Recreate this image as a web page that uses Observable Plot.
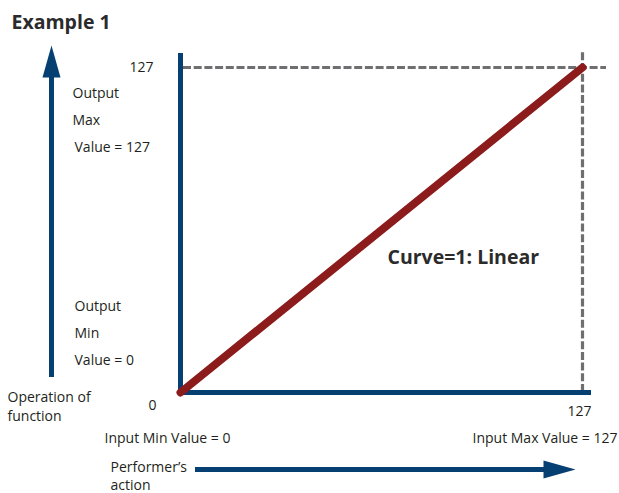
<!DOCTYPE html>
<html>
<head>
<meta charset="utf-8">
<script src="https://cdn.jsdelivr.net/npm/d3@7"></script>
<script src="https://cdn.jsdelivr.net/npm/@observablehq/plot@0.6"></script>
<style>
  html, body { margin: 0; padding: 0; background: #fff; }
</style>
</head>
<body>
<div id="chart"></div>
<script>
// ---- data ----
const curveInput = [0, 127];
const curveOutput = [0, 127];
const axisMin = 0;
const axisMax = 127;
const tickLabels = ["0", "127"];
const titleText = "Example 1";
const curveLabel = "Curve=1: Linear";
const outputMaxLines = ["Output", "Max", "Value = 127"];
const outputMinLines = ["Output", "Min", "Value = 0"];
const yTitleLines = ["Operation of", "function"];
const xTitleLines = ["Performer’s", "action"];
const inputMinLabel = "Input Min Value = 0";
const inputMaxLabel = "Input Max Value = 127";

// ---- layout ----
const W = 619, H = 493;
const xRange = [180, 582], yRange = [392, 67];
const X = d3.scaleLinear([axisMin, axisMax], xRange);
const Y = d3.scaleLinear([axisMin, axisMax], yRange);
const px = p => X.invert(p);
const py = p => Y.invert(p);

const navy = "#063f71";
const red = "#8c1b1b";
const gray = "#6f6f72";
const ink = "#231f20";
const font = "Open Sans";

const curve = curveInput.map((v, i) => ({input: v, output: curveOutput[i]}));

const arrowUp = {draw(ctx) { ctx.moveTo(0, -16); ctx.lineTo(9, 16); ctx.lineTo(-9, 16); ctx.closePath(); }};
const arrowRight = {draw(ctx) { ctx.moveTo(16, 0); ctx.lineTo(-16, -9); ctx.lineTo(-16, 9); ctx.closePath(); }};

const txt = (s, x, y, opts = {}) => Plot.text([s], {x, y, text: d => d, fill: ink, fontSize: 14, textAnchor: "start", lineAnchor: "middle", ...opts});

const chart = Plot.plot({
  width: W, height: H, margin: 0,
  x: {domain: [axisMin, axisMax], range: xRange, axis: null},
  y: {domain: [axisMin, axisMax], range: yRange, axis: null},
  style: {fontFamily: font, background: "#fff", overflow: "visible"},
  marks: [
    // dashed guides at max
    Plot.ruleY([axisMax], {x1: px(183), x2: px(606), stroke: gray, strokeWidth: 3.2, strokeDasharray: "8,2.7"}),
    Plot.ruleX([axisMax], {y1: axisMin, y2: py(52), stroke: gray, strokeWidth: 3.2, strokeDasharray: "8,2.7"}),
    // axes
    Plot.ruleX([axisMin], {y1: py(394), y2: py(53), stroke: navy, strokeWidth: 5}),
    Plot.ruleY([axisMin], {x1: px(178), x2: px(591), stroke: navy, strokeWidth: 5}),
    // curve
    Plot.line(curve, {x: "input", y: "output", stroke: red, strokeWidth: 8, strokeLinecap: "round"}),
    // left big arrow
    Plot.ruleX([px(51)], {y1: py(377), y2: py(75), stroke: navy, strokeWidth: 5}),
    Plot.dot([0], {x: px(51), y: py(61), symbol: arrowUp, r: 10, fill: navy, stroke: null}),
    // bottom big arrow
    Plot.ruleY([py(469)], {x1: px(195), x2: px(545), stroke: navy, strokeWidth: 5}),
    Plot.dot([0], {x: px(559), y: py(469), symbol: arrowRight, r: 10, fill: navy, stroke: null}),
    // title
    txt(titleText, px(11), py(22), {fontSize: 19.5, fontWeight: "bold", fill: "#2b2b2b"}),
    // tick labels
    txt(tickLabels[1], px(153), axisMax, {textAnchor: "end"}),
    txt(tickLabels[0], px(152), py(405), {textAnchor: "middle"}),
    txt(tickLabels[1], px(579), py(411), {textAnchor: "middle"}),
    // output labels
    txt(outputMaxLines[0], px(72), py(93)),
    txt(outputMaxLines[1], px(72), py(120)),
    txt(outputMaxLines[2], px(74), py(147)),
    txt(outputMinLines[0], px(74), py(306)),
    txt(outputMinLines[1], px(74), py(333)),
    txt(outputMinLines[2], px(74), py(360)),
    // axis titles
    txt(yTitleLines[0], px(7), py(397)),
    txt(yTitleLines[1], px(7), py(416)),
    txt(xTitleLines[0], px(110), py(467)),
    txt(xTitleLines[1], px(110), py(485)),
    // input labels
    txt(inputMinLabel, px(104), py(438)),
    txt(inputMaxLabel, px(617), py(438), {textAnchor: "end"}),
    // curve label
    txt(curveLabel, px(387), py(257), {fontSize: 19.5, fontWeight: "bold", fill: "#2b2b2b"})
  ]
});
document.getElementById("chart").append(chart);
</script>
</body>
</html>
